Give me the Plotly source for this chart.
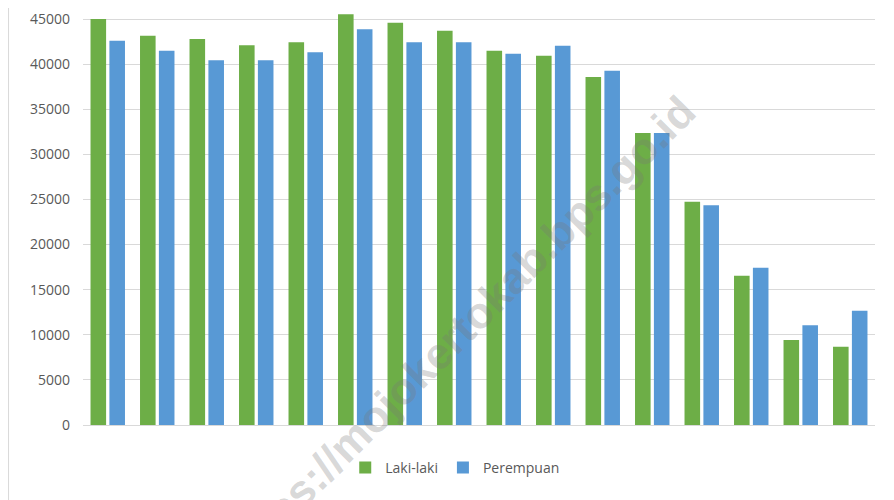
import plotly.graph_objects as go

# kelompok umur (label sumbu x tidak ditampilkan pada gambar asli)
kelompok_umur = ['0-4', '5-9', '10-14', '15-19', '20-24', '25-29', '30-34', '35-39',
                 '40-44', '45-49', '50-54', '55-59', '60-64', '65-69', '70-74', '75+']
laki_laki = [45000, 43150, 42780, 42090, 42420, 45520, 44590, 43700,
             41490, 40940, 38570, 32360, 24750, 16550, 9420, 8680]
perempuan = [42600, 41490, 40420, 40420, 41310, 43860, 42420, 42420,
             41160, 42050, 39270, 32360, 24350, 17440, 11050, 12670]
y_ticks = [0, 5000, 10000, 15000, 20000, 25000, 30000, 35000, 40000, 45000]

font_txt = 'Open Sans, Liberation Sans, Arial'
plot_h = 415  # tinggi area plot (px) untuk rentang 0-46000

fig = go.Figure()
fig.add_trace(go.Bar(name='Laki-laki', x=kelompok_umur, y=laki_laki,
                     marker=dict(color='#6DAE47', line=dict(width=0))))
fig.add_trace(go.Bar(name='Perempuan', x=kelompok_umur, y=perempuan,
                     marker=dict(color='#5899D5', line=dict(width=0))))

# halaman punya margin body 8px, jadi ukuran figur dikurangi
fig.update_layout(
    width=886, height=492,
    margin=dict(l=75, r=19, t=2, b=75),
    barmode='group', bargap=0.237, bargroupgap=0.175,
    paper_bgcolor='white', plot_bgcolor='white',
    font=dict(family=font_txt, size=14, color='#595959'),
    showlegend=True,
    legend=dict(orientation='h', x=0.47, xanchor='center', y=-43 / plot_h, yanchor='middle',
                font=dict(size=14, color='#595959'), itemwidth=30,
                traceorder='normal'),
    xaxis=dict(showticklabels=False, showgrid=False, zeroline=False,
               showline=False, ticks=''),
    yaxis=dict(range=[0, 46000], tickvals=y_ticks, tickformat='d',
               showgrid=True, gridcolor='#D9D9D9', gridwidth=1,
               zeroline=True, zerolinecolor='#D9D9D9', zerolinewidth=1,
               showline=False, ticks='', ticklabelstandoff=12,
               tickfont=dict(size=14, color='#595959')),
)

# garis tepi kiri area grafik
fig.add_shape(type='line', xref='paper', yref='paper',
              x0=-0.094, x1=-0.094, y0=-75 / plot_h, y1=1 + 2 / plot_h,
              line=dict(color='#D9D9D9', width=1))

# watermark
fig.add_annotation(text='<b>https://mojokertokab.bps.go.id</b>',
                   xref='paper', yref='paper', x=0.476, y=95 / plot_h,
                   xanchor='center', yanchor='middle',
                   showarrow=False, textangle=-45,
                   font=dict(family='Liberation Sans, Arial', size=44,
                             color='rgba(120,120,120,0.3)'))

fig.write_html("out.html")
